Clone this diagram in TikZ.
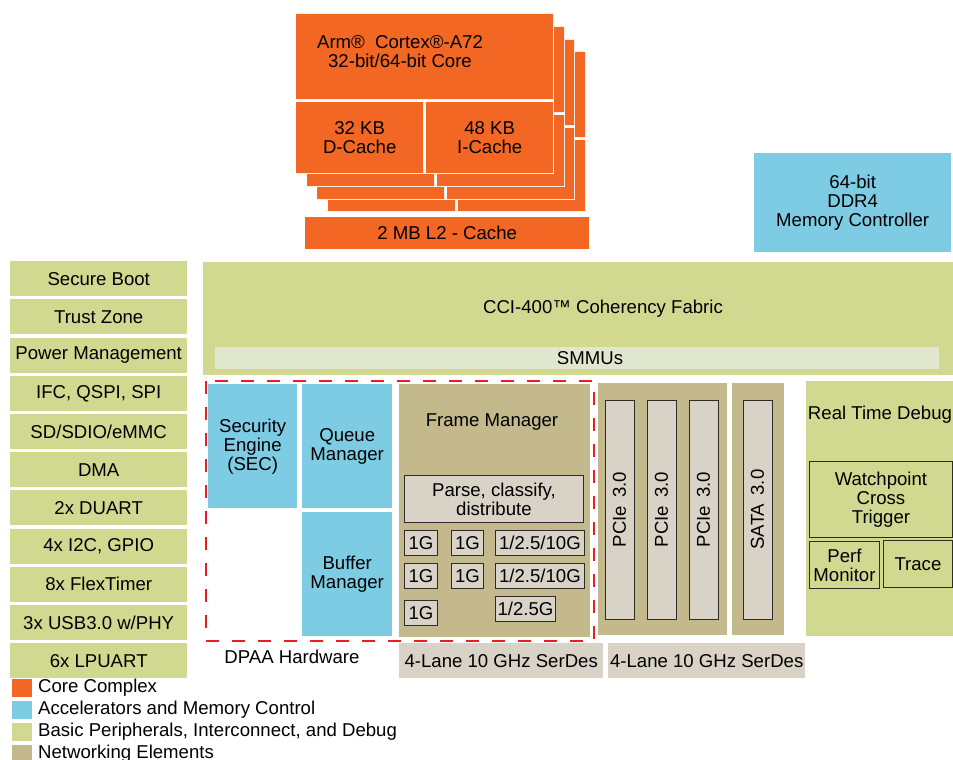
\documentclass[tikz,border=0pt]{standalone}
\usepackage{fontspec}
\setmainfont{Liberation Sans}
\usepackage{tikz}
\definecolor{armorange}{RGB}{242,103,36}
\definecolor{accblue}{RGB}{126,203,228}
\definecolor{pergreen}{RGB}{209,217,144}
\definecolor{nettan}{RGB}{196,185,140}
\definecolor{pktgray}{RGB}{217,210,199}
\definecolor{smmugreen}{RGB}{225,230,206}
\definecolor{dpaared}{RGB}{237,28,36}
\definecolor{boxline}{RGB}{45,45,40}
\newcommand{\blktxt}{\fontsize{18.6}{19}\selectfont}

\begin{document}
\begin{tikzpicture}[x=1pt, y=-1pt,
		blk/.style={anchor=north west, inner sep=0pt, align=center, font=\blktxt},
		sz/.style 2 args={minimum width=#1, minimum height=#2},
		core/.style={blk, fill=armorange},
		acc/.style={blk, fill=accblue},
		per/.style={blk, fill=pergreen},
		net/.style={blk, fill=nettan},
		pkt/.style={blk, fill=pktgray, draw=boxline, line width=0.9pt},
		dbgbox/.style={blk, draw=boxline, line width=0.9pt},
		lbl/.style={inner sep=0pt, align=center, font=\blktxt},
		dpaa/.style={draw=dpaared, line width=2.7pt, dash pattern=on 13pt off 13pt}]
	\useasboundingbox (0,0) rectangle (953,760);
	\foreach \dx/\dy in {32/38, 21/26, 11/13, 0/0} {
		\fill[white] (295+\dx,13+\dy) rectangle (554+\dx,174+\dy);
		\fill[armorange] (296+\dx,14+\dy) rectangle (553+\dx,99+\dy)
			(296+\dx,102+\dy) rectangle (423+\dx,173+\dy)
			(426+\dx,102+\dy) rectangle (553+\dx,173+\dy);
	}
	\node[core, sz={257}{85}] (cpu) at (296,14) {};
	\node[lbl] (cputxt) at (400,52) {Arm®\hspace{5pt} Cortex®-A72\\32-bit/64-bit Core};
	\node[core, sz={127}{71}] (dcache) at (296,102) {32 KB\\D-Cache};
	\node[core, sz={127}{71}] (icache) at (426,102) {48 KB\\I-Cache};
	\node[core, sz={284}{32}] (ltwo) at (305,217) {2 MB L2 - Cache};
	\node[acc, sz={197}{99}] (ddr) at (754,153) {64-bit\\DDR4\\Memory Controller};
	\foreach \pname [count=\i from 0] in {Secure Boot, Trust Zone, Power Management, {IFC, QSPI, SPI}, SD/SDIO/eMMC, DMA, 2x DUART, {4x I2C, GPIO}, 8x FlexTimer, 3x USB3.0 w/PHY, 6x LPUART}
		\node[per, sz={177}{35}] (per-\i) at (10,261+38.2*\i) {\pname};
	\node[per, sz={750}{113}] (cci) at (203,262) {};
	\node[lbl] (ccitxt) at (603,309) {CCI-400™ Coherency Fabric};
	\node[blk, fill=smmugreen, sz={724}{22}] (smmu) at (215,347) {};
	\node[lbl] (smmutxt) at (590,358) {SMMUs};
	\node[acc, sz={89}{124}] (sec) at (208,384) {Security\\Engine\\(SEC)};
	\node[acc, sz={90}{124}] (qman) at (302,384) {Queue\\Manager};
	\node[acc, sz={90}{124}] (bman) at (302,512) {Buffer\\Manager};
	\node[net, sz={191}{253}] (fman) at (399,384) {};
	\node[lbl] (fmantxt) at (492,422) {Frame Manager};
	\node[pkt, sz={179}{47}] (pcd) at (404,475) {Parse, classify,\\distribute};
	\node[pkt, sz={33}{25}] (mac-1) at (404,530) {1G};
	\node[pkt, sz={32}{25}] (mac-2) at (451,530) {1G};
	\node[pkt, sz={89}{25}] (mac-3) at (495,530) {1/2.5/10G};
	\node[pkt, sz={33}{25}] (mac-4) at (404,563) {1G};
	\node[pkt, sz={32}{25}] (mac-5) at (451,563) {1G};
	\node[pkt, sz={89}{25}] (mac-6) at (495,563) {1/2.5/10G};
	\node[pkt, sz={33}{25}] (mac-7) at (404,600) {1G};
	\node[pkt, sz={60}{25}] (mac-8) at (495,596) {1/2.5G};
	\draw[dpaa] (206,381) rectangle (594,641);
	\node[lbl] (dpaatxt) at (292,657) {DPAA Hardware};
	\node[net, sz={129}{252}] (pcie) at (598,383) {};
	\foreach \bx [count=\i] in {619.5, 661.5, 703.5}
		\node[pkt, anchor=center, rotate=90, sz={219}{29}] (pcie-\i) at (\bx,509.5) {PCIe\hspace{3pt} 3.0};
	\node[net, sz={52}{252}] (sata) at (732,383) {};
	\node[pkt, anchor=center, rotate=90, sz={219}{29}] (sata-1) at (757.5,509.5) {SATA\hspace{3pt} 3.0};
	\node[blk, fill=pktgray, sz={204}{35}] (serdes-1) at (399,643) {4-Lane 10 GHz SerDes};
	\node[blk, fill=pktgray, sz={197}{35}] (serdes-2) at (608,643) {4-Lane 10 GHz SerDes};
	\node[per, sz={147}{255}] (dbg) at (806,381) {};
	\node[lbl] (dbgtxt) at (880,415) {Real Time Debug};
	\node[dbgbox, sz={143}{76}] (wpt) at (809,461) {Watchpoint\\Cross\\Trigger};
	\node[dbgbox, sz={70}{47}] (perf) at (809,541) {Perf\\Monitor};
	\node[dbgbox, sz={69}{47}] (trace) at (883,540) {Trace};
	\foreach \kcol/\ktext [count=\i from 0] in {armorange/Core Complex, accblue/Accelerators and Memory Control, pergreen/{Basic Peripherals, Interconnect, and Debug}, nettan/Networking Elements} {
		\node[blk, fill=\kcol, sz={20}{18}] (keybox-\i) at (12,679+22*\i) {};
		\node[lbl, anchor=west] (key-\i) at (38,688+22*\i) {\ktext};
	}
\end{tikzpicture}
\end{document}
